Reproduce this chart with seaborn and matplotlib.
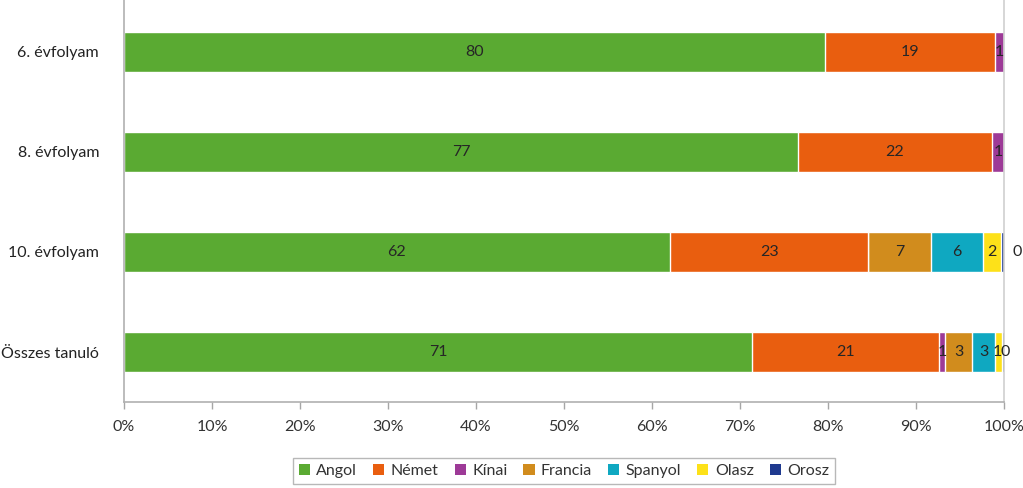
import matplotlib
matplotlib.use("Agg")
import matplotlib.pyplot as plt
import seaborn as sns
import pandas as pd
import numpy as np
from matplotlib.patches import Patch

categories = ["6. évfolyam", "8. évfolyam", "10. évfolyam", "Összes tanuló"]
series = ["Angol", "Német", "Kínai", "Francia", "Spanyol", "Olasz", "Orosz"]
angol   = [79.7, 76.6, 62.0, 71.4]
nemet   = [19.3, 22.0, 22.6, 21.2]
kinai   = [1.0, 1.4, 0.0, 0.7]
francia = [0.0, 0.0, 7.1, 3.1]
spanyol = [0.0, 0.0, 5.9, 2.6]
olasz   = [0.0, 0.0, 2.1, 0.8]
orosz   = [0.0, 0.0, 0.3, 0.2]

colors = ["#5aaa32", "#e95e0f", "#9d3a97", "#d18c1d", "#0fa8c1", "#fde119", "#1f3a8f"]

values = np.array([angol, nemet, kinai, francia, spanyol, olasz, orosz])
cum = np.cumsum(values, axis=0)

sns.set_theme(style="white")
plt.rcParams["font.family"] = ["Lato", "DejaVu Sans"]

fig = plt.figure(figsize=(10.23, 4.88), dpi=100)
ax = fig.add_axes([124/1023, 86/488, 880/1023, 402/488])

for i in range(len(series) - 1, -1, -1):
    df = pd.DataFrame({"cat": categories, "end": cum[i]})
    sns.barplot(data=df, y="cat", x="end", orient="h", color=colors[i],
                saturation=1, width=0.4, ax=ax, order=categories)

# labels
for j, cat in enumerate(categories):
    for i, s in enumerate(series):
        v = values[i, j]
        if v <= 0:
            continue
        start = cum[i, j] - v
        xc = start + v / 2
        if cat == "10. évfolyam" and s == "Orosz":
            xc = 101.5
        elif cat == "Összes tanuló" and s == "Orosz":
            xc = 100.15
        elif cat == "Összes tanuló" and s == "Olasz":
            xc = 99.2
        ax.text(xc, j, f"{v:.0f}", ha="center", va="center",
                fontsize=11.5, color="#262626", clip_on=False)

ax.set_xlim(0, 100)
ax.set_ylim(3.5, -0.52)
ax.set_xticks(np.arange(0, 101, 10))
ax.set_xticklabels([f"{t}%" for t in range(0, 101, 10)], fontsize=11.5, color="#333333")
ax.set_yticks(range(len(categories)))
ax.set_yticklabels(categories, fontsize=11.5, color="#222222")
ax.set_xlabel("")
ax.set_ylabel("")
ax.tick_params(axis="x", length=5, color="#a6a6a6", width=1, pad=8, direction="out", bottom=True)
ax.tick_params(axis="y", length=0, pad=18)
ax.xaxis.set_ticks_position("bottom")
for side in ["left", "bottom", "right"]:
    ax.spines[side].set_visible(True)
    ax.spines[side].set_color("#b0b0b0")
    ax.spines[side].set_linewidth(1.2)
ax.spines["right"].set_color("#d0d0d0")
ax.spines["top"].set_visible(False)
ax.grid(False)

handles = [Patch(facecolor=c, edgecolor="none") for c in colors]
leg = fig.legend(handles, series, loc="center", bbox_to_anchor=(564/1023, 17/488),
                 ncol=7, frameon=True, fontsize=11.5, handlelength=0.7, handleheight=0.7,
                 handletextpad=0.4, columnspacing=1.0, borderpad=0.35, fancybox=False)
leg.get_frame().set_edgecolor("#a6a6a6")
leg.get_frame().set_linewidth(1.0)
for t in leg.get_texts():
    t.set_color("#333333")

fig.savefig("out.png", dpi=100)
